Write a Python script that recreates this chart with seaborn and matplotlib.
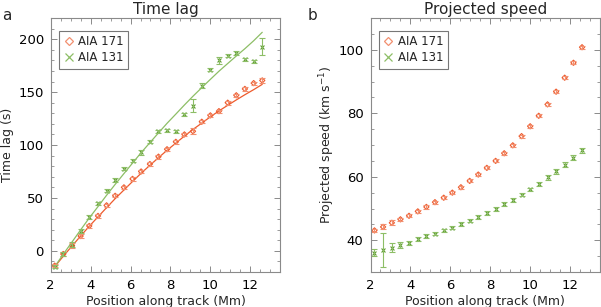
import numpy as np
import pandas as pd
import matplotlib
matplotlib.use("Agg")
import matplotlib.pyplot as plt
import seaborn as sns
from matplotlib.lines import Line2D
from matplotlib.ticker import MultipleLocator

# ---- data ----
position = [2.20, 2.63, 3.07, 3.50, 3.93, 4.37, 4.80, 5.23, 5.67, 6.10,
            6.53, 6.97, 7.40, 7.83, 8.27, 8.70, 9.13, 9.57, 10.00, 10.43,
            10.87, 11.30, 11.73, 12.17, 12.60]

lag171 = [-14, -3, 5, 14, 23.5, 33, 43, 52, 60, 68, 75, 82, 89, 96, 103, 110,
          113, 122, 128, 132, 140, 147, 153, 158.5, 161]
lag171_err = [1.5, 1.5, 2, 2, 1.5, 2, 1.5, 1.5, 1.5, 2, 1.5, 1.5, 2, 1.5, 2, 1.5,
              3, 1.5, 1.5, 1.5, 2, 1.5, 2, 1.5, 2.5]
lag131 = [-15, -3, 6, 19, 32, 45, 57, 67, 77.5, 85, 93, 103, 113, 114, 113, 129,
          137, 156, 171, 180, 184.5, 187, 181, 179, 193]
lag131_err = [1.5, 1.5, 2, 2, 2, 1.5, 1.5, 2, 1.5, 1.5, 2, 1.5, 1.5, 1.5, 1.5, 1.5,
              6, 2.5, 1.5, 3, 1.5, 1.5, 1.5, 1.5, 8]

fit171 = [-15, -5.1, 4.6, 14.0, 23.2, 32.1, 40.8, 49.3, 57.5, 65.5, 73.3, 80.8,
          88.0, 95.0, 101.8, 108.4, 114.7, 120.7, 126.6, 132.2, 137.5, 142.6,
          147.5, 152.3, 157.3]
fit131 = [-15, -3.2, 8.4, 19.8, 31.0, 41.8, 52.5, 62.8, 73.0, 82.9, 92.7, 102.2,
          111.4, 120.5, 129.2, 137.8, 146.1, 154.2, 162.0, 169.7, 177.0, 184.1,
          191.0, 198.5, 206.5]

speed171 = [43.1, 44.2, 45.5, 46.6, 47.7, 49.1, 50.5, 52.0, 53.4, 55.0, 56.7, 58.7,
            60.7, 62.8, 65.0, 67.4, 69.9, 72.8, 75.9, 79.2, 82.8, 86.8, 91.2, 95.9,
            100.8]
speed171_err = [0.5, 0.8, 0.8, 0.5, 0.5, 0.5, 0.5, 0.5, 0.5, 0.5, 0.5, 0.5, 0.5,
                0.5, 0.5, 0.5, 0.5, 0.5, 0.5, 0.5, 0.5, 0.5, 0.5, 0.5, 0.5]
speed131 = [36.1, 37.0, 37.7, 38.4, 39.2, 40.3, 41.3, 42.1, 43.1, 44.0, 45.0, 46.2,
            47.3, 48.6, 49.9, 51.3, 52.8, 54.4, 56.0, 57.8, 59.8, 61.7, 63.8, 66.0,
            68.3]
speed131_err = [1.0, 5.4, 1.5, 0.9, 0.6, 0.6, 0.6, 0.6, 0.6, 0.6, 0.6, 0.6, 0.6,
                0.6, 0.6, 0.6, 0.6, 0.6, 0.6, 0.7, 0.7, 0.7, 0.7, 0.8, 0.9]

labels = ["AIA 171", "AIA 131"]
xticks = [2, 4, 6, 8, 10, 12]

# ---- style ----
sns.set_theme(style="ticks")
plt.rcParams["font.family"] = ["DejaVu Sans"]

C171 = "#EE5A2C"
C171L = "#F29070"
C131 = "#5A9A2C"
C131L = "#8DBE66"
AXC = "#8A8A8A"

fig = plt.figure(figsize=(6.01, 3.07), dpi=100)
ax1 = fig.add_axes([50.7 / 601, 35 / 307, 229.5 / 601, 254 / 307])
ax2 = fig.add_axes([370.5 / 601, 35 / 307, 229.5 / 601, 254 / 307])

df = pd.DataFrame({
    "pos": position, "lag171": lag171, "lag131": lag131,
    "fit171": fit171, "fit131": fit131,
    "sp171": speed171, "sp131": speed131,
})


def style_axes(ax):
    for s in ax.spines.values():
        s.set_color(AXC)
        s.set_linewidth(0.8)
        s.set_visible(True)
    ax.tick_params(which="both", direction="in", top=True, right=True,
                   colors="black", labelsize=9.5, pad=5)
    ax.tick_params(which="major", length=4.5, width=0.7, color=AXC)
    ax.tick_params(which="minor", length=2.5, width=0.6, color=AXC)
    ax.set_xlim(2, 13.5)
    ax.set_xticks(xticks)
    ax.xaxis.set_minor_locator(MultipleLocator(0.5))
    ax.set_xlabel("Position along track (Mm)", fontsize=9, labelpad=2)


def legend(ax):
    handles = [
        Line2D([], [], ls="none", marker="D", ms=4.5, mfc="none", mec=C171L, mew=0.9),
        Line2D([], [], ls="none", marker="x", ms=6, mec=C131L, mew=0.9),
    ]
    lg = ax.legend(handles, labels, loc="upper left", bbox_to_anchor=(0.037, 0.95),
                   fontsize=8.5, frameon=True, fancybox=False, handlelength=0.8,
                   handletextpad=0.4, borderpad=0.4, labelspacing=0.2,
                   borderaxespad=0)
    lg.get_frame().set_edgecolor("#555555")
    lg.get_frame().set_linewidth(0.8)


# ---- panel a ----
sns.lineplot(data=df, x="pos", y="fit171", ax=ax1, color=C171, lw=0.9, legend=False)
sns.lineplot(data=df, x="pos", y="fit131", ax=ax1, color=C131L, lw=0.9, legend=False)
ax1.errorbar(position, lag171, yerr=lag171_err, fmt="none", ecolor=C171L,
             elinewidth=0.8, capsize=2.5, capthick=0.8)
ax1.errorbar(position, lag131, yerr=lag131_err, fmt="none", ecolor=C131L,
             elinewidth=0.8, capsize=2.5, capthick=0.8)
sns.scatterplot(data=df, x="pos", y="lag171", ax=ax1, marker="D", s=7,
                facecolor="none", edgecolor=C171, linewidth=0.8, legend=False)
sns.scatterplot(data=df, x="pos", y="lag131", ax=ax1, marker="x", s=8,
                color=C131, linewidth=0.8, legend=False)
style_axes(ax1)
ax1.set_ylim(-20, 220)
ax1.yaxis.set_major_locator(MultipleLocator(50))
ax1.yaxis.set_minor_locator(MultipleLocator(10))
ax1.set_ylabel("Time lag (s)", fontsize=9, labelpad=3)
ax1.set_title("Time lag", fontsize=11, pad=3)
legend(ax1)

# ---- panel b ----
ax2.errorbar(position, speed171, yerr=speed171_err, fmt="none", ecolor=C171L,
             elinewidth=0.8, capsize=2.5, capthick=0.8)
ax2.errorbar(position, speed131, yerr=speed131_err, fmt="none", ecolor=C131L,
             elinewidth=0.8, capsize=2.5, capthick=0.8)
sns.scatterplot(data=df, x="pos", y="sp171", ax=ax2, marker="D", s=7,
                facecolor="none", edgecolor=C171, linewidth=0.8, legend=False)
sns.scatterplot(data=df, x="pos", y="sp131", ax=ax2, marker="x", s=8,
                color=C131, linewidth=0.8, legend=False)
style_axes(ax2)
ax2.set_ylim(30, 110)
ax2.yaxis.set_major_locator(MultipleLocator(20))
ax2.yaxis.set_minor_locator(MultipleLocator(5))
ax2.set_ylabel("Projected speed (km s$^{-1}$)", fontsize=9, labelpad=1)
ax2.set_title("Projected speed", fontsize=11, pad=3)
legend(ax2)

fig.text(2 / 601, 1 - 16 / 307, "a", fontsize=11, va="center", ha="left")
fig.text(308 / 601, 1 - 16 / 307, "b", fontsize=11, va="center", ha="left")

fig.savefig("out.png", dpi=100)
